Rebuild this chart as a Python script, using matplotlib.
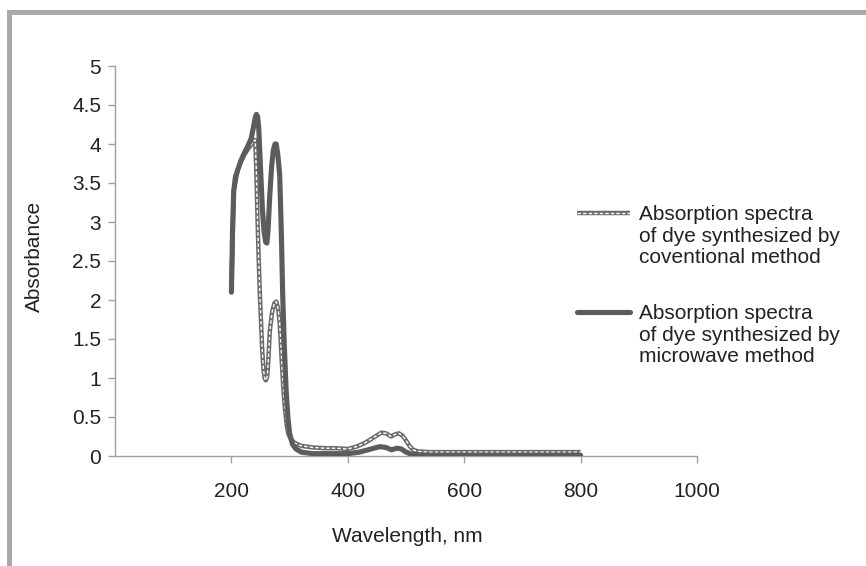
import matplotlib.pyplot as plt
from matplotlib.lines import Line2D
from matplotlib.patches import Rectangle

plt.rcParams['font.family'] = ['Liberation Sans', 'DejaVu Sans']

# Absorption spectra (wavelength nm, absorbance)
wl_micro = [200, 202, 204, 207, 211, 216, 222, 228, 234, 238, 241, 243, 245, 247,
            250, 253, 256, 259, 261, 263, 266, 269, 272, 275, 277, 280, 283, 286,
            288, 291, 294, 297, 300, 305, 311, 320, 340, 360, 380, 400, 420, 440,
            455, 465, 475, 485, 492, 500, 510, 520, 550, 600, 700, 800]
abs_micro = [2.1, 2.9, 3.4, 3.58, 3.67, 3.78, 3.88, 3.97, 4.07, 4.22, 4.34, 4.38, 4.35, 4.2,
             3.7, 3.2, 2.88, 2.74, 2.73, 2.9, 3.35, 3.7, 3.92, 4.0, 4.0, 3.85, 3.6, 2.8,
             2.1, 1.4, 0.85, 0.5, 0.29, 0.15, 0.09, 0.05, 0.03, 0.03, 0.03, 0.03, 0.05, 0.09,
             0.12, 0.11, 0.08, 0.1, 0.09, 0.05, 0.02, 0.01, 0.01, 0.01, 0.01, 0.01]

wl_conv = [200, 204, 211, 216, 222, 228, 233, 237, 240, 241, 243, 245, 247, 249,
           251, 253, 255, 257, 259, 261, 262, 264, 266, 270, 274, 277, 280, 283,
           286, 289, 292, 295, 298, 302, 308, 320, 340, 360, 380, 400, 415, 430,
           445, 458, 466, 474, 482, 488, 494, 500, 506, 512, 520, 540, 600, 700, 800]
abs_conv = [2.1, 3.4, 3.67, 3.77, 3.86, 3.93, 3.98, 4.02, 4.05, 4.05, 3.6, 3.0, 2.5, 2.05,
            1.7, 1.35, 1.12, 1.0, 0.97, 1.0, 1.05, 1.3, 1.6, 1.85, 1.96, 1.98, 1.9, 1.7,
            1.28, 0.9, 0.6, 0.4, 0.28, 0.22, 0.17, 0.13, 0.11, 0.1, 0.1, 0.09, 0.12, 0.17,
            0.24, 0.3, 0.29, 0.25, 0.28, 0.29, 0.26, 0.2, 0.13, 0.08, 0.06, 0.05, 0.05, 0.05, 0.05]

labels = ['Absorption spectra\nof dye synthesized by\ncoventional method',
          'Absorption spectra\nof dye synthesized by\nmicrowave method']
xticks = [200, 400, 600, 800, 1000]
yticks = [0, 0.5, 1, 1.5, 2, 2.5, 3, 3.5, 4, 4.5, 5]

line_col = '#5c5c5c'
axis_col = '#a0a0a0'
text_col = '#222222'
fs = 15

fig = plt.figure(figsize=(8.66, 5.66), dpi=100)
ax = fig.add_axes([115 / 866, 1 - 456 / 566, (697 - 115) / 866, (456 - 66) / 566])

# conventional: grey outline with white dashed core, under the microwave curve
ax.plot(wl_conv, abs_conv, color='#6a6a6a', lw=3.2, solid_capstyle='butt', zorder=2)
ax.plot(wl_conv, abs_conv, color='white', lw=1.0, ls=(0, (2.5, 1.5)), zorder=3)
ax.plot(wl_micro, abs_micro, color=line_col, lw=3.7, solid_capstyle='round', zorder=4)

ax.set_xlim(0, 1000)
ax.set_ylim(0, 5)
ax.set_xticks(xticks)
ax.set_yticks(yticks)
ax.set_yticklabels([f'{v:g}' for v in yticks])
for s in ['top', 'right']:
    ax.spines[s].set_visible(False)
for s in ['left', 'bottom']:
    ax.spines[s].set_color(axis_col)
    ax.spines[s].set_linewidth(1.0)
ax.tick_params(axis='x', direction='out', length=5, width=1, color=axis_col,
               labelcolor=text_col, labelsize=fs, pad=14)
ax.tick_params(axis='y', direction='out', length=5, width=1, color=axis_col,
               labelcolor=text_col, labelsize=fs, pad=5)

fig.text(407 / 866, 1 - 536 / 566, 'Wavelength, nm', ha='center', va='center',
         fontsize=fs, color=text_col)
fig.text(34 / 866, 1 - 256 / 566, 'Absorbance', ha='center', va='center',
         rotation=90, fontsize=fs, color=text_col)

# legend drawn by hand so the handle sits on the first text line
leg_y = [213, 312]
for i, y in enumerate(leg_y):
    yf = 1 - y / 566
    xs = [577 / 866, 630 / 866]
    if i == 0:
        fig.add_artist(Line2D(xs, [yf, yf], color='#6a6a6a', lw=3.2,
                              solid_capstyle='butt', transform=fig.transFigure))
        fig.add_artist(Line2D(xs, [yf, yf], color='white', lw=1.0, ls=(0, (2.5, 1.5)),
                              transform=fig.transFigure))
    else:
        fig.add_artist(Line2D(xs, [yf, yf], color=line_col, lw=3.7,
                              solid_capstyle='round', transform=fig.transFigure))
    fig.text(639 / 866, 1 - (y - 8) / 566, labels[i], ha='left', va='top',
             fontsize=fs, color=text_col, linespacing=1.18)

# grey frame strips on top and left edges
fig.add_artist(Rectangle((7 / 866, 1 - 15 / 566), 1, 5 / 566, color='#a9a9a9',
                         transform=fig.transFigure, lw=0))
fig.add_artist(Rectangle((7 / 866, 0), 5 / 866, 1 - 10 / 566, color='#a9a9a9',
                         transform=fig.transFigure, lw=0))

fig.savefig('out.png', dpi=100)
